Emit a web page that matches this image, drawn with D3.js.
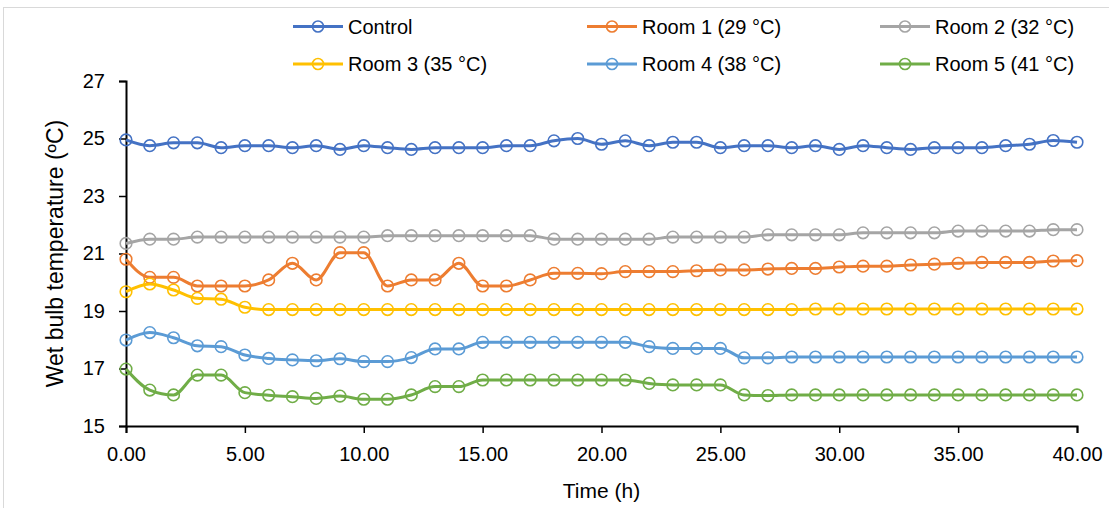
<!DOCTYPE html>
<html>
<head>
<meta charset="utf-8">
<script src="https://cdn.jsdelivr.net/npm/d3@7"></script>
<style>
  html, body { margin: 0; padding: 0; background: #fff; }
  svg { display: block; font-family: "Liberation Sans", Arial, sans-serif; }
</style>
</head>
<body>
<svg id="chart" width="1109" height="508"></svg>
<script>
// ---- data ----
const hours = [0,1,2,3,4,5,6,7,8,9,10,11,12,13,14,15,16,17,18,19,20,21,22,23,24,25,26,27,28,29,30,31,32,33,34,35,36,37,38,39,40];
const seriesNames = ["Control", "Room 1 (29 °C)", "Room 2 (32 °C)", "Room 3 (35 °C)", "Room 4 (38 °C)", "Room 5 (41 °C)"];
const control = [24.95,24.75,24.85,24.85,24.68,24.75,24.75,24.68,24.75,24.62,24.75,24.68,24.62,24.68,24.68,24.68,24.75,24.75,24.92,25.0,24.8,24.92,24.75,24.87,24.87,24.68,24.75,24.75,24.68,24.75,24.62,24.75,24.68,24.62,24.68,24.68,24.68,24.75,24.8,24.93,24.87];
const room1 = [20.8,20.17,20.17,19.87,19.87,19.87,20.08,20.66,20.08,21.03,21.03,19.87,20.08,20.08,20.66,19.87,19.87,20.08,20.31,20.31,20.3,20.37,20.37,20.37,20.4,20.43,20.43,20.46,20.48,20.48,20.53,20.56,20.56,20.6,20.63,20.66,20.69,20.69,20.69,20.74,20.75];
const room2 = [21.35,21.5,21.5,21.57,21.57,21.57,21.57,21.57,21.57,21.57,21.57,21.62,21.62,21.62,21.62,21.62,21.62,21.62,21.5,21.5,21.5,21.5,21.5,21.57,21.57,21.57,21.57,21.65,21.65,21.65,21.65,21.72,21.72,21.72,21.72,21.78,21.78,21.78,21.78,21.83,21.83];
const room3 = [19.67,19.94,19.73,19.44,19.41,19.13,19.05,19.05,19.05,19.05,19.05,19.05,19.05,19.05,19.05,19.05,19.05,19.05,19.05,19.05,19.05,19.05,19.05,19.05,19.05,19.05,19.05,19.05,19.05,19.07,19.07,19.07,19.07,19.07,19.07,19.07,19.07,19.07,19.07,19.07,19.07];
const room4 = [17.99,18.25,18.07,17.79,17.76,17.47,17.35,17.3,17.27,17.34,17.24,17.24,17.38,17.68,17.68,17.91,17.91,17.91,17.91,17.91,17.91,17.91,17.76,17.7,17.7,17.7,17.37,17.37,17.4,17.4,17.4,17.4,17.4,17.4,17.4,17.4,17.4,17.4,17.4,17.4,17.4];
const room5 = [16.98,16.25,16.08,16.77,16.77,16.16,16.07,16.02,15.96,16.04,15.93,15.93,16.08,16.37,16.37,16.6,16.6,16.6,16.6,16.6,16.6,16.6,16.48,16.43,16.43,16.43,16.08,16.06,16.08,16.08,16.08,16.08,16.08,16.08,16.08,16.08,16.08,16.08,16.08,16.08,16.08];
const colors = ["#4472C4", "#ED7D31", "#A5A5A5", "#FFC000", "#5B9BD5", "#70AD47"];
const xTicks = [0,5,10,15,20,25,30,35,40];
const yTicks = [15,17,19,21,23,25,27];
const xTitle = "Time (h)";
const yTitle = "Wet bulb temperature (ºC)";

const allSeries = [control, room1, room2, room3, room4, room5];

// ---- layout ----
const svg = d3.select("#chart");
const W = 1109, H = 508;
const margin = { left: 126, right: 32, top: 81, bottom: 82 };

svg.append("rect")
  .attr("x", 3.5).attr("y", 7.5)
  .attr("width", W + 10).attr("height", H + 10)
  .attr("fill", "none").attr("stroke", "#d9d9d9").attr("stroke-width", 1);

const x = d3.scaleLinear().domain([0, 40]).range([margin.left, W - margin.right]);
const y = d3.scaleLinear().domain([15, 27]).range([H - margin.bottom, margin.top]);

// axes
const xAxis = svg.append("g")
  .attr("transform", `translate(0,${y(15)})`)
  .call(d3.axisBottom(x).tickValues(xTicks).tickFormat(d => d.toFixed(2)).tickSizeOuter(0).tickSize(7).tickPadding(14));
const yAxis = svg.append("g")
  .attr("transform", `translate(${x(0)},0)`)
  .call(d3.axisLeft(y).tickValues(yTicks).tickFormat(d3.format("d")).tickSizeOuter(0).tickSize(7).tickPadding(14));

[xAxis, yAxis].forEach(g => {
  g.select(".domain").attr("stroke", "#000").attr("stroke-width", 2);
  g.selectAll(".tick line").attr("stroke", "#000").attr("stroke-width", 1.5);
  g.selectAll(".tick text").attr("fill", "#000").style("font-size", "20px")
    .style("font-family", "'Liberation Sans', Arial, sans-serif");
});

// titles
svg.append("text")
  .attr("x", (x(0) + x(40)) / 2).attr("y", 498)
  .attr("text-anchor", "middle").style("font-size", "21px").attr("fill", "#000")
  .text(xTitle);
svg.append("text")
  .attr("transform", `translate(63,${(y(15) + y(27)) / 2}) rotate(-90)`)
  .attr("text-anchor", "middle").style("font-size", "23px").attr("fill", "#000")
  .text(yTitle);

// series
const line = d3.line().x((d, i) => x(hours[i])).y(d => y(d)).curve(d3.curveMonotoneX);
allSeries.forEach((vals, si) => {
  const g = svg.append("g");
  g.append("path").datum(vals)
    .attr("fill", "none").attr("stroke", colors[si]).attr("stroke-width", 3)
    .attr("stroke-linejoin", "round").attr("d", line);
  g.selectAll("circle").data(vals).join("circle")
    .attr("cx", (d, i) => x(hours[i])).attr("cy", d => y(d)).attr("r", 5.8)
    .attr("fill", "none").attr("stroke", colors[si]).attr("stroke-width", 1.6);
});

// legend
const legCols = [293, 587, 880];
const legRows = [26.5, 64];
seriesNames.forEach((name, i) => {
  const cx = legCols[i % 3], cy = legRows[Math.floor(i / 3)];
  const g = svg.append("g");
  g.append("line").attr("x1", cx).attr("x2", cx + 50).attr("y1", cy).attr("y2", cy)
    .attr("stroke", colors[i]).attr("stroke-width", 3);
  g.append("circle").attr("cx", cx + 25).attr("cy", cy).attr("r", 5.5)
    .attr("fill", "none").attr("stroke", colors[i]).attr("stroke-width", 1.6);
  g.append("text").attr("x", cx + 55).attr("y", cy).attr("dy", "0.35em")
    .style("font-size", "20px").attr("fill", "#000").text(name);
});
</script>
</body>
</html>
